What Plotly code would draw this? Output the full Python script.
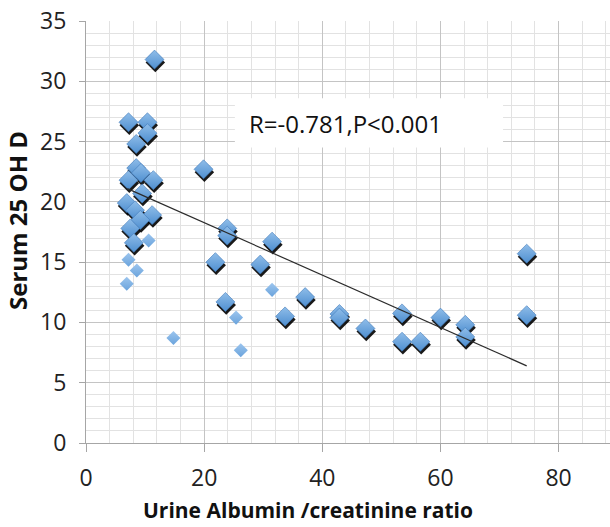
import plotly.graph_objects as go

# Large markers (series with shadow)
big_x = [11.6, 7.2, 10.4, 10.4, 8.5, 8.5, 9.3, 7.2, 11.4, 9.5, 6.9, 8.3, 11.2, 9.2, 7.5, 8.1,
         19.9, 23.9, 23.9, 31.5, 21.9, 29.5, 23.6, 37.1, 33.7, 42.9, 42.9, 47.3,
         53.5, 53.5, 56.6, 60.0, 64.2, 64.2, 74.6, 74.6]
big_y = [31.8, 26.6, 26.6, 25.7, 24.8, 22.8, 22.4, 21.8, 21.8, 20.7, 19.9, 19.3, 18.9, 18.5, 17.8, 16.6,
         22.7, 17.8, 17.2, 16.7, 15.0, 14.8, 11.7, 12.1, 10.5, 10.7, 10.4, 9.5,
         10.75, 8.4, 8.4, 10.4, 9.8, 8.8, 15.7, 10.6]

# Small markers (lighter series)
small_x = [10.6, 7.2, 8.6, 6.9, 14.8, 31.5, 25.4, 26.2]
small_y = [16.8, 15.2, 14.3, 13.2, 8.7, 12.7, 10.4, 7.7]

# Trendline end points
trend_x = [7.0, 74.6]
trend_y = [21.1, 6.4]

annot_text = "R=-0.781,P<0.001"
x_title = "Urine Albumin /creatinine ratio"
y_title = "Serum 25 OH D"

W, H = 610, 527
ML, MR, MT, MB = 86, 0, 21, 84
XR = [0, 88.7]
YR = [0, 35]
pw = W - ML - MR
ph = H - MT - MB
px_x = (XR[1] - XR[0]) / pw
px_y = (YR[1] - YR[0]) / ph

shadow_dx = 0.8 * px_x
shadow_dy = -3.0 * px_y

fig = go.Figure()

fig.add_trace(go.Scatter(
    x=[v + shadow_dx for v in big_x], y=[v + shadow_dy for v in big_y],
    mode="markers", hoverinfo="skip",
    marker=dict(symbol="diamond", size=15, color="rgba(0,0,0,0.9)", line=dict(width=0)),
    showlegend=False))

fig.add_trace(go.Scatter(
    x=big_x, y=big_y, mode="markers",
    marker=dict(symbol="diamond", size=14.6, color="#8fbde9",
                gradient=dict(type="vertical", color="#4f8fd0"),
                line=dict(width=0.6, color="#3f78b8")),
    showlegend=False))

fig.add_trace(go.Scatter(
    x=small_x, y=small_y, mode="markers",
    marker=dict(symbol="diamond", size=10.8, color="#9cc5ee",
                gradient=dict(type="vertical", color="#6aa3dc"),
                line=dict(width=0)),
    showlegend=False))

fig.add_trace(go.Scatter(
    x=trend_x, y=trend_y, mode="lines",
    line=dict(color="#2b2b2b", width=1.2),
    showlegend=False))

# white label box (above grid, below traces)
fig.add_shape(type="rect", xref="x", yref="y", x0=25.2, x1=70.6, y0=24.5, y1=28.6,
              fillcolor="white", line=dict(width=0), layer="between")

fig.add_annotation(
    x=27.3, y=26.5, xref="x", yref="y", text=annot_text, showarrow=False,
    font=dict(family="Open Sans", size=24, color="#111111"),
    xanchor="left", yanchor="middle")

fig.add_annotation(
    x=(308 - ML) / pw, y=(H - MB - 510) / ph, xref="paper", yref="paper",
    text="<b>" + x_title + "</b>", showarrow=False,
    font=dict(family="Open Sans", size=21, color="#111111"),
    xanchor="center", yanchor="middle")

fig.add_annotation(
    x=(17 - ML) / pw, y=(H - MB - 221) / ph, xref="paper", yref="paper",
    text="<b>" + y_title + "</b>", showarrow=False, textangle=-90,
    font=dict(family="Open Sans", size=24, color="#111111"),
    xanchor="center", yanchor="middle")

axis_common = dict(
    showgrid=True, gridcolor="#c4c4c4", gridwidth=1,
    zeroline=False, showline=True, linecolor="#a6a6a6", linewidth=1,
    ticks="outside", tickcolor="#a6a6a6",
    tickfont=dict(family="Open Sans", size=23, color="#222222"),
)

fig.update_xaxes(range=XR, dtick=20, tick0=0, ticklen=8, ticklabelstandoff=6,
                 minor=dict(dtick=4, showgrid=True, gridcolor="#e2e2e2", ticks=""),
                 **axis_common)
fig.update_yaxes(range=YR, dtick=5, tick0=0, ticklen=6, ticklabelstandoff=8,
                 minor=dict(dtick=1, showgrid=True, gridcolor="#e2e2e2", ticks=""),
                 **axis_common)

fig.update_layout(
    width=W, height=H, margin=dict(l=ML, r=MR, t=MT, b=MB),
    paper_bgcolor="white", plot_bgcolor="white",
)

fig.write_html("out.html")
